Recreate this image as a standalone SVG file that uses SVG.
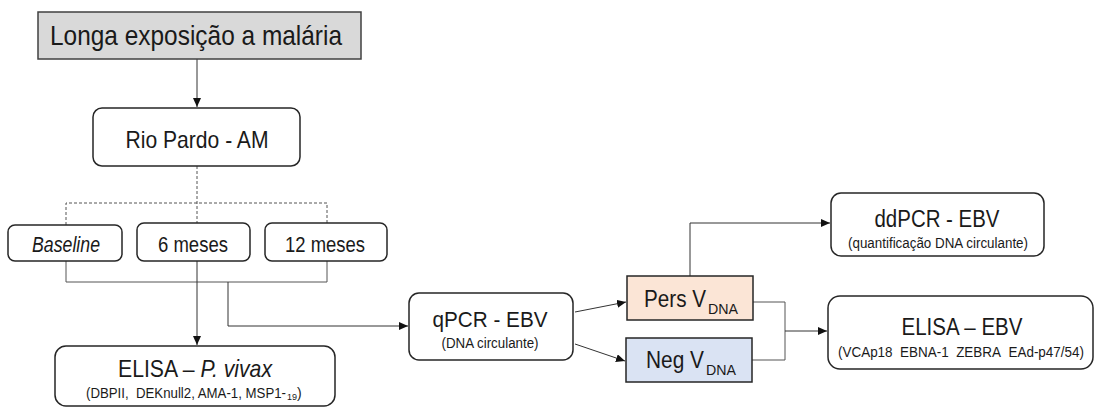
<svg xmlns="http://www.w3.org/2000/svg" width="1097" height="409" viewBox="0 0 1097 409">
<defs>
<style>
text{font-family:"Liberation Sans",Arial,sans-serif;fill:#1a1a1a;text-anchor:middle}
.box{fill:#fff;stroke:#262626;stroke-width:1.5}
.ln{fill:none;stroke:#555;stroke-width:1}
.dash{fill:none;stroke:#555;stroke-width:1;stroke-dasharray:3 2}
.ar{fill:none;stroke:#333;stroke-width:1;marker-end:url(#ah)}
.it{font-style:italic}
.st{text-anchor:start}
</style>
<marker id="ah" markerUnits="userSpaceOnUse" markerWidth="10" markerHeight="10" refX="9" refY="4" orient="auto">
<path d="M0,0 L9,4 L0,8 Z" fill="#111"/>
</marker>
</defs>
<rect width="1097" height="409" fill="#fff"/>
<g id="connectors">
<line class="ar" x1="197" y1="59" x2="197" y2="107"/>
<polyline class="dash" points="197,166 197,223"/>
<polyline class="dash" points="66,225 66,203 327,203 327,223"/>
<polyline class="ln" points="66,261 66,282 327,282 327,261"/>
<line class="ar" x1="197" y1="261" x2="197" y2="345"/>
<polyline class="ar" points="228,282 228,326 408,326"/>
<line class="ar" x1="575" y1="312" x2="626" y2="302"/>
<line class="ar" x1="575" y1="344" x2="625" y2="361"/>
<polyline class="ar" points="690,276 690,223 830,223"/>
<polyline class="ln" points="753,302 785,302 785,360 752,360"/>
<line class="ar" x1="785" y1="331" x2="827" y2="331"/>
</g>
<g id="n-longa">
<rect x="38" y="12" width="323" height="47" fill="#d9d9d9" stroke="#404040" stroke-width="1.5"/>
<text x="196" y="45" font-size="28" textLength="292" lengthAdjust="spacingAndGlyphs">Longa exposição a malária</text>
</g>
<g id="n-rio">
<rect class="box" x="93" y="108" width="207" height="58" rx="9"/>
<text x="197" y="148" font-size="24" textLength="143" lengthAdjust="spacingAndGlyphs">Rio Pardo - AM</text>
</g>
<g id="n-baseline">
<rect class="box" x="8" y="225" width="114" height="36" rx="7"/>
<text class="it" x="66" y="252" font-size="22" textLength="68" lengthAdjust="spacingAndGlyphs">Baseline</text>
</g>
<g id="n-6m">
<rect class="box" x="137" y="223" width="113" height="38" rx="7"/>
<text x="193" y="252" font-size="22" textLength="70" lengthAdjust="spacingAndGlyphs">6 meses</text>
</g>
<g id="n-12m">
<rect class="box" x="265" y="223" width="122" height="38" rx="7"/>
<text x="325" y="252" font-size="22" textLength="80" lengthAdjust="spacingAndGlyphs">12 meses</text>
</g>
<g id="n-elisa-pv">
<rect class="box" x="55" y="346" width="280" height="60" rx="11"/>
<text x="195" y="377" font-size="24" textLength="154" lengthAdjust="spacingAndGlyphs">ELISA – <tspan class="it">P. vivax</tspan></text>
<text x="86" y="398" font-size="14" textLength="200" lengthAdjust="spacingAndGlyphs" class="st">(DBPII,&#160; DEKnull2, AMA-1, MSP1-</text>
<text x="287" y="400" font-size="9" class="st">19</text>
<text x="297" y="398" font-size="14" class="st">)</text>
</g>
<g id="n-qpcr">
<rect class="box" x="409" y="293" width="164" height="67" rx="10"/>
<text x="490" y="327" font-size="22" textLength="115" lengthAdjust="spacingAndGlyphs">qPCR - EBV</text>
<text x="490" y="348" font-size="14" textLength="97" lengthAdjust="spacingAndGlyphs">(DNA circulante)</text>
</g>
<g id="n-pers">
<rect x="627" y="276" width="126" height="44" fill="#fbe5d6" stroke="#262626" stroke-width="1.5"/>
<text class="st" x="644" y="307" font-size="23" textLength="62" lengthAdjust="spacingAndGlyphs">Pers V</text>
<text class="st" x="708" y="314" font-size="15" textLength="30" lengthAdjust="spacingAndGlyphs">DNA</text>
</g>
<g id="n-neg">
<rect x="626" y="338" width="126" height="44" fill="#dae3f3" stroke="#262626" stroke-width="1.5"/>
<text class="st" x="646" y="368" font-size="23" textLength="58" lengthAdjust="spacingAndGlyphs">Neg V</text>
<text class="st" x="706" y="375" font-size="15" textLength="30" lengthAdjust="spacingAndGlyphs">DNA</text>
</g>
<g id="n-ddpcr">
<rect class="box" x="831" y="193" width="213" height="63" rx="10"/>
<text x="937" y="227" font-size="23" textLength="125" lengthAdjust="spacingAndGlyphs">ddPCR - EBV</text>
<text x="938" y="248" font-size="14" textLength="180" lengthAdjust="spacingAndGlyphs">(quantificação DNA circulante)</text>
</g>
<g id="n-elisa-ebv">
<rect class="box" x="828" y="296" width="265" height="73" rx="12"/>
<text x="962" y="335" font-size="23" textLength="121" lengthAdjust="spacingAndGlyphs">ELISA – EBV</text>
<text x="961" y="357" font-size="14" textLength="246" lengthAdjust="spacingAndGlyphs">(VCAp18&#160; EBNA-1&#160; ZEBRA&#160; EAd-p47/54)</text>
</g>
</svg>
